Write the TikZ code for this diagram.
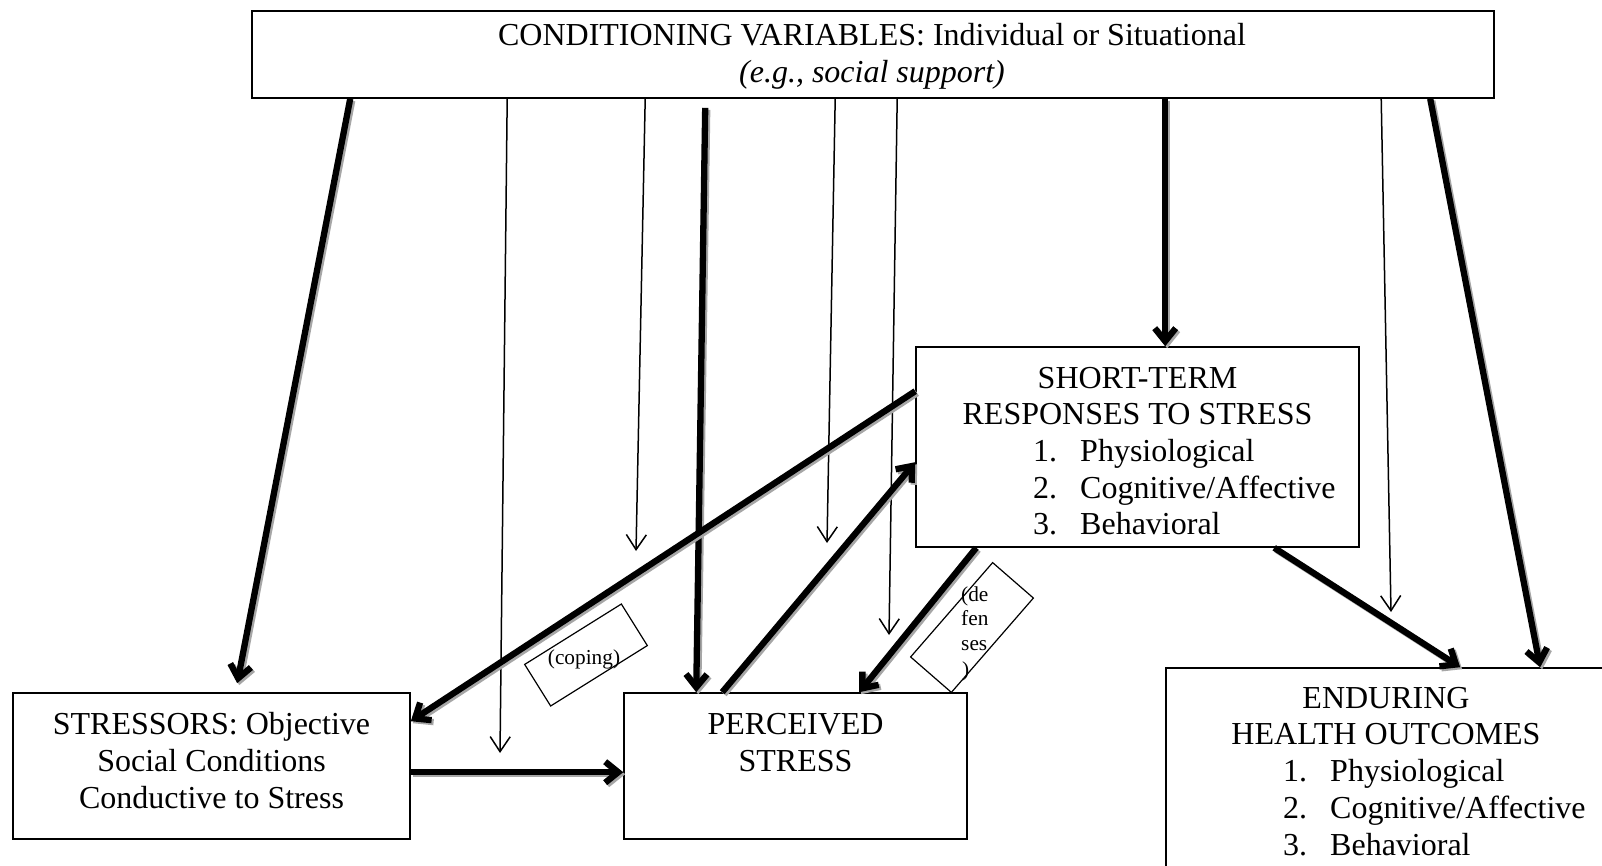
\documentclass[tikz,border=0pt]{standalone}
\usepackage{fontspec}
\setmainfont{Liberation Serif}
\usetikzlibrary{arrows.meta}

\begin{document}
\begin{tikzpicture}[x=1pt,y=-1pt,
  box/.style={draw, line width=1.6pt, inner sep=0pt, rectangle},
  tagbox/.style={draw, line width=1.2pt, inner sep=0pt, rectangle},
  txt/.style={anchor=base, inner sep=0pt, font=\fontsize{32}{37}\selectfont},
  lnum/.style={anchor=base west, inner sep=0pt, font=\fontsize{32}{37}\selectfont},
  small/.style={anchor=base, inner sep=0pt, font=\fontsize{21.3}{24.5}\selectfont},
  smallw/.style={anchor=base west, inner sep=0pt, font=\fontsize{21.3}{24.5}\selectfont},
  thin/.style={line width=1.5pt, -{Straight Barb[length=15pt,width=20pt]}},
  heavy/.style={line width=6.3pt, -{Straight Barb[length=13pt,width=21pt]},
     preaction={draw=black!35, line width=6.3pt, -{Straight Barb[length=13pt,width=21pt]},
                transform canvas={xshift=2pt,yshift=-2pt}}},
]
\useasboundingbox (0,0) rectangle (1602,866);
\fill[white] (0,0) rectangle (1602,866);
\clip (0,0) rectangle (1602,866);

% boxes
\node[box, minimum width=1242pt, minimum height=87pt] (cond) at (873,54.5) {};
\node[box, minimum width=443pt, minimum height=200pt] (short) at (1137.5,447) {};
\node[box, minimum width=397pt, minimum height=146pt] (stressors) at (211.5,766) {};
\node[box, minimum width=343pt, minimum height=146pt] (perceived) at (795.5,766) {};
\node[box, minimum width=440pt, minimum height=232pt] (enduring) at (1386,784) {};

% texts of the boxes
\node[txt] (condA) at (872,46) {CONDITIONING VARIABLES: Individual or Situational};
\node[txt] (condB) at (872,83) {\itshape (e.g., social support)};

\node[txt] (stA) at (1137.5,388) {SHORT-TERM};
\node[txt] (stB) at (1137.5,424) {RESPONSES TO STRESS};
\node[lnum] (stN1) at (1033,461) {1.};
\node[lnum] (stT1) at (1080,461) {Physiological};
\node[lnum] (stN2) at (1033,498) {2.};
\node[lnum] (stT2) at (1080,498) {Cognitive/Affective};
\node[lnum] (stN3) at (1033,534) {3.};
\node[lnum] (stT3) at (1080,534) {Behavioral};

\node[txt] (srA) at (211.5,734) {STRESSORS: Objective};
\node[txt] (srB) at (211.5,771) {Social Conditions};
\node[txt] (srC) at (211.5,808) {Conductive to Stress};

\node[txt] (psA) at (795.5,734) {PERCEIVED};
\node[txt] (psB) at (795.5,771) {STRESS};

\node[txt] (enA) at (1386,708) {ENDURING};
\node[txt] (enB) at (1386,744) {HEALTH OUTCOMES};
\node[lnum] (enN1) at (1283,781) {1.};
\node[lnum] (enT1) at (1330,781) {Physiological};
\node[lnum] (enN2) at (1283,818) {2.};
\node[lnum] (enT2) at (1330,818) {Cognitive/Affective};
\node[lnum] (enN3) at (1283,855) {3.};
\node[lnum] (enT3) at (1330,855) {Behavioral};

% tilted tag boxes
\node[tagbox, minimum width=114pt, minimum height=49pt, rotate=32] (copingbox) at (586,655) {};
\node[small] (coping) at (584,664) {(coping)};
\node[tagbox, minimum width=125pt, minimum height=54pt, rotate=49] (defbox) at (972,627.5) {};
\node[smallw] (defA) at (961,601) {(de};
\node[smallw] (defB) at (961,625.5) {fen};
\node[smallw] (defC) at (961,650) {ses};
\node[smallw] (defD) at (962,676) {)};

% free ends of the moderating arrows
\coordinate (bEnd) at (500,753);
\coordinate (cEnd) at (636,551);
\coordinate (eEnd) at (827,543);
\coordinate (fEnd) at (889,635);
\coordinate (hEnd) at (1391,612);

% thin moderating arrows
\draw[thin] ([xshift=256pt]cond.south west) -- (bEnd);
\draw[thin] ([xshift=394pt]cond.south west) -- (cEnd);
\draw[thin] ([xshift=584pt]cond.south west) -- (eEnd);
\draw[thin] ([xshift=646pt]cond.south west) -- (fEnd);
\draw[thin] ([xshift=1130pt]cond.south west) -- (hEnd);

% heavy causal arrows
\draw[heavy] ([xshift=99pt]cond.south west) -- ([xshift=225pt,yshift=9pt]stressors.north west);
\draw[heavy] ([xshift=454pt,yshift=-9pt]cond.south west) -- ([xshift=73pt]perceived.north west);
\draw[heavy] ([xshift=914pt]cond.south west) -- ([xshift=250pt]short.north west);
\draw[heavy] ([xshift=1179pt]cond.south west) -- ([xshift=375pt]enduring.north west);
\draw[heavy] ([yshift=-45pt]short.north west) -- ([yshift=-29pt]stressors.north east);
\draw[heavy] ([xshift=99pt]perceived.north west) -- ([yshift=-116pt]short.north west);
\draw[heavy] ([xshift=61pt]short.south west) -- ([xshift=236pt]perceived.north west);
\draw[heavy] ([yshift=-80pt]stressors.north east) -- ([yshift=-80pt]perceived.north west);
\draw[heavy] ([xshift=359pt]short.south west) -- ([xshift=295pt]enduring.north west);
\end{tikzpicture}
\end{document}
